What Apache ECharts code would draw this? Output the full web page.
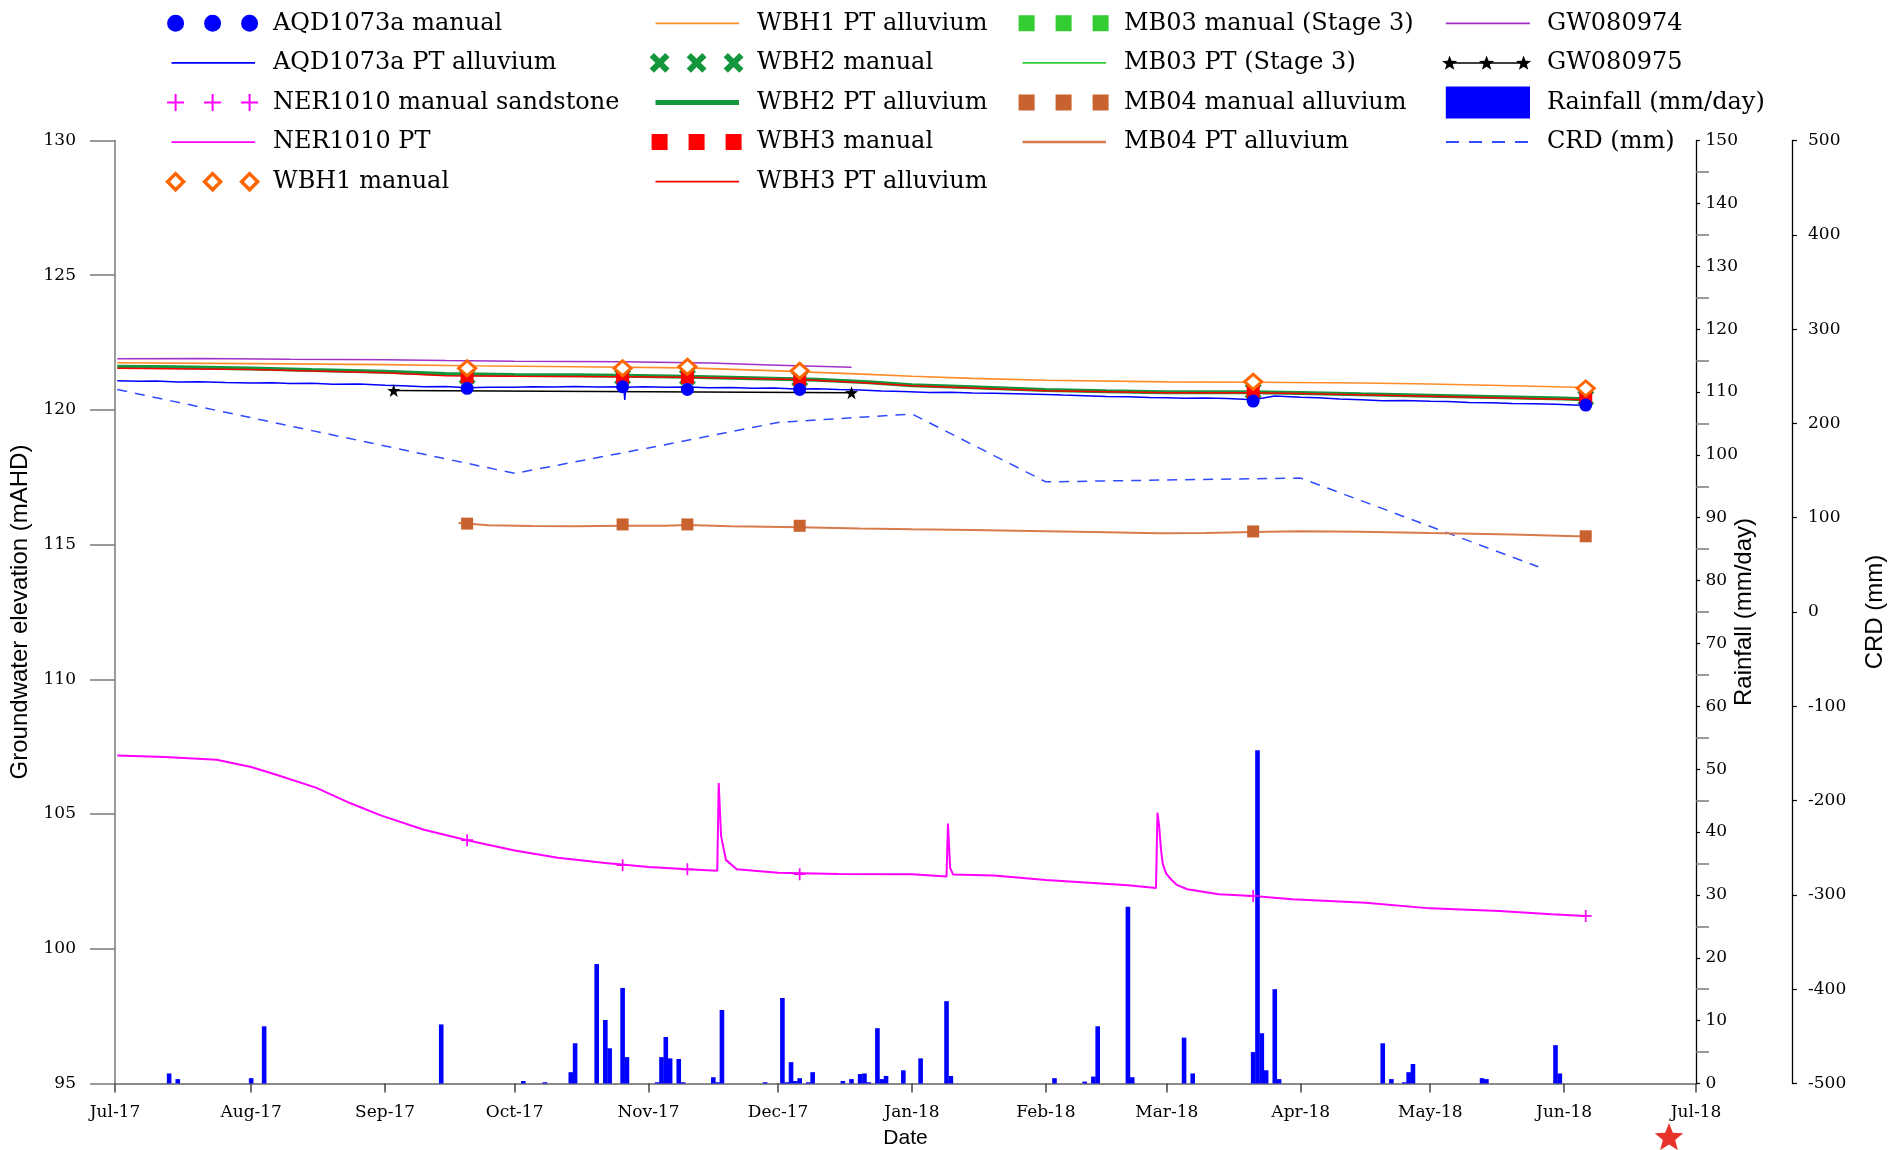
<!DOCTYPE html>
<html>
<head>
<meta charset="utf-8">
<script src="https://cdn.jsdelivr.net/npm/echarts@6/dist/echarts.min.js"></script>
<style>html,body{margin:0;padding:0;background:#fff;}#chart{width:1899px;height:1150px;}</style>
</head>
<body>
<div id="chart"></div>
<script>
// ---------------- DATA ----------------
const monthNames = ['Jan','Feb','Mar','Apr','May','Jun','Jul','Aug','Sep','Oct','Nov','Dec'];
const axisStart = [2017, 6, 1];
const axisEnd = [2018, 6, 1];

const manualDates = ['2017-09-20','2017-10-26','2017-11-10','2017-12-06','2018-03-21','2018-06-06'];
const aqdManual   = [120.80, 120.86, 120.76, 120.76, 120.33, 120.18];
const nerManual   = [104.03, 103.10, 102.95, 102.77, 101.96, 101.22];
const wbh1Manual  = [121.55, 121.55, 121.60, 121.45, 121.05, 120.80];
const wbh2Manual  = [121.25, 121.23, 121.22, 121.16, 120.70, 120.45];
const wbh3Manual  = [121.23, 121.21, 121.21, 121.14, 120.68, 120.43];
const mb03ManualDates = ['2018-03-21','2018-06-06'];
const mb03Manual  = [120.66, 120.42];
const mb04Manual  = [115.78, 115.75, 115.75, 115.70, 115.49, 115.31];

const aqdPtDates = ['2017-07-01','2017-07-06','2017-07-10','2017-07-15','2017-07-20','2017-07-26','2017-08-01','2017-08-06','2017-08-10','2017-08-15','2017-08-20','2017-08-26','2017-09-01','2017-09-05','2017-09-10','2017-09-15','2017-09-20','2017-09-25','2017-10-01','2017-10-05','2017-10-10','2017-10-15','2017-10-20','2017-10-26 06:00','2017-10-26 12:00','2017-10-26 18:00','2017-10-31','2017-11-05','2017-11-10','2017-11-15','2017-11-20','2017-11-25','2017-11-30','2017-12-05','2017-12-10','2017-12-15','2017-12-20','2017-12-25','2017-12-30','2018-01-05','2018-01-10','2018-01-15','2018-01-20','2018-01-25','2018-01-30','2018-02-05','2018-02-10','2018-02-15','2018-02-20','2018-02-25','2018-03-01','2018-03-05','2018-03-10','2018-03-15','2018-03-21','2018-03-26','2018-04-01','2018-04-05','2018-04-10','2018-04-15','2018-04-20','2018-04-25','2018-05-01','2018-05-05','2018-05-10','2018-05-15','2018-05-20','2018-05-25','2018-05-30','2018-06-06'];
const aqdPt = [121.08,121.06,121.07,121.04,121.05,121.02,121.00,121.01,120.98,120.99,120.95,120.96,120.92,120.90,120.86,120.87,120.82,120.84,120.84,120.86,120.85,120.87,120.85,120.86,120.37,120.84,120.86,120.84,120.85,120.82,120.83,120.80,120.81,120.78,120.79,120.76,120.74,120.70,120.68,120.65,120.66,120.63,120.62,120.60,120.58,120.55,120.53,120.50,120.49,120.46,120.45,120.43,120.44,120.42,120.38,120.52,120.47,120.45,120.41,120.38,120.34,120.35,120.32,120.31,120.28,120.27,120.24,120.23,120.21,120.16];

const nerPtDates = ['2017-07-01','2017-07-12','2017-07-24','2017-08-01','2017-08-07','2017-08-16','2017-08-24','2017-08-31','2017-09-10','2017-09-20','2017-10-01','2017-10-11','2017-10-22','2017-11-01','2017-11-09','2017-11-16 22:00','2017-11-17 06:00','2017-11-17 19:00','2017-11-18 22:00','2017-11-21 10:00','2017-12-01','2017-12-15','2018-01-01','2018-01-09 00:00','2018-01-09 08:00','2018-01-09 20:00','2018-01-10 12:00','2018-01-20','2018-02-01','2018-02-11','2018-02-20','2018-02-26 12:00','2018-02-26 20:00','2018-02-27 06:00','2018-02-27 16:00','2018-02-28 01:00','2018-02-28 20:00','2018-03-02 03:00','2018-03-03 08:00','2018-03-05 18:00','2018-03-13','2018-03-21','2018-03-30','2018-04-16','2018-05-01','2018-05-17','2018-05-29','2018-06-06'];
const nerPt = [107.17,107.12,107.02,106.75,106.45,105.98,105.40,104.95,104.42,104.03,103.65,103.38,103.18,103.04,102.96,102.90,106.15,104.20,103.30,102.95,102.82,102.78,102.77,102.68,104.65,103.00,102.76,102.72,102.55,102.45,102.36,102.26,105.05,104.53,103.67,103.17,102.80,102.55,102.37,102.21,102.02,101.96,101.84,101.71,101.50,101.40,101.28,101.22];

const wbh1PtDates = ['2017-07-01','2017-08-01','2017-09-01','2017-09-20','2017-10-15','2017-11-10','2017-12-01','2017-12-22','2018-01-01','2018-01-15','2018-02-01','2018-03-01','2018-03-21','2018-04-15','2018-05-01','2018-05-20','2018-06-06'];
const wbh1Pt = [121.75,121.72,121.68,121.64,121.60,121.56,121.45,121.32,121.25,121.17,121.10,121.04,121.03,121.00,120.96,120.90,120.83];

const wbh2PtDates = ['2017-07-01','2017-07-15','2017-08-01','2017-08-15','2017-09-01','2017-09-15','2017-10-01','2017-10-15','2017-10-26','2017-11-10','2017-11-25','2017-12-10','2017-12-22','2018-01-01','2018-01-15','2018-02-01','2018-02-15','2018-03-01','2018-03-21','2018-04-01','2018-04-15','2018-05-01','2018-05-15','2018-06-01','2018-06-06'];
const wbh2Pt = [121.60,121.58,121.54,121.48,121.42,121.33,121.30,121.29,121.27,121.23,121.18,121.12,121.03,120.92,120.84,120.74,120.69,120.66,120.66,120.63,120.58,120.53,120.48,120.42,120.40];
const mb03Pt = [121.58,121.56,121.52,121.46,121.40,121.31,121.28,121.27,121.25,121.21,121.16,121.10,121.01,120.90,120.82,120.72,120.67,120.64,120.64,120.61,120.56,120.51,120.46,120.40,120.38];

const wbh3PtDates = ['2017-07-01','2017-08-01','2017-09-01','2017-09-15','2017-10-01','2017-10-26','2017-11-10','2017-12-06','2017-12-22','2018-01-01','2018-02-01','2018-03-01','2018-03-21','2018-04-01','2018-05-01','2018-06-06'];
const wbh3Pt = [121.55,121.50,121.38,121.27,121.25,121.23,121.21,121.13,121.00,120.90,120.71,120.64,120.64,120.61,120.51,120.38];

const mb04PtDates = ['2017-09-18','2017-09-25','2017-10-05','2017-10-15','2017-10-26','2017-11-05','2017-11-10','2017-11-20','2017-12-06','2017-12-20','2018-01-01','2018-01-15','2018-02-01','2018-02-15','2018-02-27','2018-03-10','2018-03-21','2018-04-01','2018-04-15','2018-05-01','2018-05-20','2018-06-06'];
const mb04Pt = [115.80,115.72,115.69,115.68,115.70,115.70,115.73,115.68,115.65,115.60,115.57,115.54,115.50,115.46,115.42,115.43,115.47,115.50,115.48,115.43,115.38,115.30];

const gw974Dates = ['2017-07-01','2017-07-20','2017-08-10','2017-09-01','2017-09-15','2017-10-01','2017-10-26','2017-11-15','2017-12-01','2017-12-18'];
const gw974 = [121.90,121.91,121.88,121.86,121.83,121.81,121.79,121.74,121.66,121.58];

const gw975Dates = ['2017-09-03','2017-12-18'];
const gw975 = [120.72, 120.64];

const rainDates = ['2017-07-13','2017-07-15','2017-08-01','2017-08-04','2017-09-14','2017-10-03','2017-10-08','2017-10-14','2017-10-15','2017-10-20','2017-10-22','2017-10-23','2017-10-26','2017-10-27','2017-11-03','2017-11-04','2017-11-05','2017-11-06','2017-11-08','2017-11-09','2017-11-16','2017-11-17','2017-11-18','2017-11-28','2017-12-02','2017-12-03','2017-12-04','2017-12-05','2017-12-06','2017-12-08','2017-12-09','2017-12-16','2017-12-18','2017-12-20','2017-12-21','2017-12-22','2017-12-24','2017-12-25','2017-12-26','2017-12-30','2018-01-03','2018-01-09','2018-01-10','2018-02-03','2018-02-10','2018-02-12','2018-02-13','2018-02-20','2018-02-21','2018-03-05','2018-03-07','2018-03-21','2018-03-22','2018-03-23','2018-03-24','2018-03-26','2018-03-27','2018-04-20','2018-04-22','2018-04-25','2018-04-26','2018-04-27','2018-05-13','2018-05-14','2018-05-30','2018-05-31'];
const rain = [1.6,0.7,0.85,9.1,9.4,0.4,0.2,1.8,6.4,19.0,10.1,5.6,15.2,4.2,0.2,4.2,7.4,4.0,3.9,0.2,1.0,0.2,11.7,0.2,13.6,0.2,3.4,0.4,0.85,0.2,1.8,0.4,0.7,1.5,1.6,0.2,8.8,0.7,1.2,2.1,4.0,13.1,1.2,0.85,0.3,1.1,9.1,28.1,1.0,7.3,1.6,5.0,53.0,8.0,2.1,15.0,0.7,6.4,0.7,0.2,1.8,3.1,0.85,0.7,6.1,1.6];

const crdDates = ['2017-07-01','2017-10-01','2017-11-01','2017-12-01','2018-01-01','2018-02-01','2018-03-01','2018-04-01','2018-05-26'];
const crd = [236,147,174,201,210,138,140,142,48];

// ---------------- HELPERS ----------------
const zip = (d, v) => d.map((x, i) => [x, v[i]]);
const f = n => (+n).toFixed(2);
function corners(W, H) { return 'M0,0h0.01v0.01h-0.01Z M' + f(W - 0.01) + ',' + f(H - 0.01) + 'h0.01v0.01h-0.01Z '; }
function rect(x, y, w, h) { return 'M' + f(x) + ',' + f(y) + 'h' + f(w) + 'v' + f(h) + 'h' + f(-w) + 'Z '; }
function circle(cx, cy, r) { return 'M' + f(cx - r) + ',' + f(cy) + 'A' + r + ',' + r + ',0,1,0,' + f(cx + r) + ',' + f(cy) + 'A' + r + ',' + r + ',0,1,0,' + f(cx - r) + ',' + f(cy) + 'Z '; }
function plus(cx, cy, s, t) { return rect(cx - t / 2, cy - s, t, 2 * s) + rect(cx - s, cy - t / 2, 2 * s, t); }
function hollowDiamond(cx, cy, r, ri) {
  return 'M' + f(cx) + ',' + f(cy - r) + 'L' + f(cx + r) + ',' + f(cy) + 'L' + f(cx) + ',' + f(cy + r) + 'L' + f(cx - r) + ',' + f(cy) + 'Z ' +
         'M' + f(cx) + ',' + f(cy - ri) + 'L' + f(cx - ri) + ',' + f(cy) + 'L' + f(cx) + ',' + f(cy + ri) + 'L' + f(cx + ri) + ',' + f(cy) + 'Z ';
}
function poly(pts) { return 'M' + pts.map(p => f(p[0]) + ',' + f(p[1])).join('L') + 'Z '; }
function xmark(cx, cy, s, t) {
  const d = t / (2 * Math.SQRT2);
  const b1 = [[cx - s + d, cy - s - d], [cx + s + d, cy + s - d], [cx + s - d, cy + s + d], [cx - s - d, cy - s + d]];
  const b2 = [[cx - s - d, cy + s - d], [cx + s - d, cy - s - d], [cx + s + d, cy - s + d], [cx - s + d, cy + s + d]];
  return poly(b1) + poly(b2);
}
function starPts(cx, cy, R, r) {
  const pts = [];
  for (let k = 0; k < 10; k++) {
    const a = -Math.PI / 2 + k * Math.PI / 5;
    const rr = k % 2 === 0 ? R : r;
    pts.push([cx + rr * Math.cos(a), cy + rr * Math.sin(a)]);
  }
  return pts;
}
const cxs = [11.6, 48.6, 85.6];
const W = 104, H1 = 22, H4 = 34;
const ic1 = body => 'path://' + corners(W, H1) + body;
const ic4 = body => 'path://' + corners(W, H4) + body;

const icons = {
  aqdManual: ic1(cxs.map(c => circle(c, 11, 8.5)).join('')),
  line: ic1(rect(7.5, 10.1, 83.5, 1.8)),
  lineMid: ic1(rect(7.5, 9.75, 83.5, 2.5)),
  nerManual: ic1(cxs.map(c => plus(c, 11, 8.5, 2)).join('')),
  wbh1Manual: ic1(cxs.map(c => hollowDiamond(c, 11, 10.5, 5.6)).join('')),
  wbh2Manual: ic1(cxs.map(c => xmark(c, 11, 7.8, 6)).join('')),
  thick: ic1(rect(7.5, 8.5, 83.5, 5)),
  squares: ic1(cxs.map(c => rect(c - 8, 3, 16, 16)).join('')),
  gw974: ic4(rect(7.8, 16.1, 84.2, 1.8)),
  gw975: ic4(rect(8, 16.25, 80, 1.5) + cxs.map(c => poly(starPts(c, 17.5, 8, 3.3))).join('')),
  rain: ic4(rect(7.8, 1, 84.2, 32)),
  crd: ic4([0, 1, 2, 3].map(k => rect(8 + k * 23, 16, 13, 2)).join(''))
};

const starSym = 'path://' + poly(starPts(10, 10, 10, 4));
const plusSym = 'path://' + plus(6, 6, 6, 1.7);
const xSym = 'path://' + xmark(8, 8, 6, 3.8);

const C = {
  blue: '#0000FF', magenta: '#FF00FF', wbh1m: '#FF6600', wbh1: '#FF8C28', wbh2: '#14963C',
  red: '#FF0000', mb03: '#33CC33', mb04m: '#C9622F', mb04: '#D77A4C', gw974: '#A030C8', black: '#000000', crd: '#2F4BFF'
};

const xMin = new Date(axisStart[0], axisStart[1], axisStart[2]).getTime();
const xMax = new Date(axisEnd[0], axisEnd[1], axisEnd[2]).getTime();

const legendText = { fontFamily: 'DejaVu Serif', fontSize: 24, color: '#000', lineHeight: 28 };
function legendItem(name, icon, color) { return { name: name, icon: icon, itemStyle: { color: color, borderWidth: 0, opacity: 1 } }; }
function legendCol(left, top, h, gap, data) {
  return { left: left, top: top, orient: 'vertical', padding: 0, itemWidth: W, itemHeight: h, itemGap: gap,
           selectedMode: false, textStyle: legendText, itemStyle: { borderWidth: 0, opacity: 1 }, data: data };
}

function lineS(name, dates, vals, color, width, z, yIdx, extra) {
  return Object.assign({ type: 'line', name: name, data: zip(dates, vals), yAxisIndex: yIdx || 0, showSymbol: false, symbol: 'none',
    lineStyle: { color: color, width: width }, itemStyle: { color: color }, z: z, silent: true }, extra || {});
}
function scatterS(name, dates, vals, symbol, size, itemStyle, z) {
  return { type: 'scatter', name: name, data: zip(dates, vals), symbol: symbol, symbolSize: size,
           itemStyle: Object.assign({ opacity: 1 }, itemStyle), z: z, silent: true };
}

const axisFont = { fontFamily: 'DejaVu Serif', fontSize: 17, color: '#000' };
const nameFont = { fontFamily: "'Liberation Sans', Arial, sans-serif", fontSize: 24, color: '#000' };
const monthLabel = v => {
  const t = typeof v === 'number' ? v : (v && v.value != null ? v.value : +v);
  const d = new Date(Math.min(Math.max(t, xMin), xMax) + 12 * 3600 * 1000);
  return monthNames[d.getMonth()] + '-' + String(d.getFullYear()).slice(2);
};

const option = {
  animation: false,
  backgroundColor: '#ffffff',
  grid: { left: 115, right: 203, top: 140.5, bottom: 66.5, containLabel: false, outerBoundsMode: 'none' },
  legend: [
    legendCol(164, 9.3, H1, 11.6, [
      legendItem('AQD1073a manual', icons.aqdManual, C.blue),
      legendItem('AQD1073a PT alluvium', icons.line, C.blue),
      legendItem('NER1010 manual sandstone', icons.nerManual, C.magenta),
      legendItem('NER1010 PT', icons.line, C.magenta),
      legendItem('WBH1 manual', icons.wbh1Manual, C.wbh1m)
    ]),
    legendCol(648, 9.3, H1, 11.6, [
      legendItem('WBH1 PT alluvium', icons.line, C.wbh1),
      legendItem('WBH2 manual', icons.wbh2Manual, C.wbh2),
      legendItem('WBH2 PT alluvium', icons.thick, C.wbh2),
      legendItem('WBH3 manual', icons.squares, C.red),
      legendItem('WBH3 PT alluvium', icons.line, C.red)
    ]),
    legendCol(1015, 9.3, H1, 11.6, [
      legendItem('MB03 manual (Stage 3)', icons.squares, C.mb03),
      legendItem('MB03 PT (Stage 3)', icons.line, C.mb03),
      legendItem('MB04 manual alluvium', icons.squares, C.mb04m),
      legendItem('MB04 PT alluvium', icons.lineMid, C.mb04)
    ]),
    legendCol(1438, 6.3, H4, 5.6, [
      legendItem('GW080974', icons.gw974, C.gw974),
      legendItem('GW080975', icons.gw975, C.black),
      legendItem('Rainfall (mm/day)', icons.rain, C.blue),
      legendItem('CRD (mm)', icons.crd, C.crd)
    ])
  ],
  xAxis: {
    type: 'time',
    min: xMin,
    max: xMax,
    splitNumber: 12,
    minInterval: 28 * 86400000,
    maxInterval: 31 * 86400000,
    axisLine: { show: true, lineStyle: { color: '#8a8a8a', width: 2 } },
    axisTick: { show: true, inside: false, length: 9, lineStyle: { color: '#444', width: 1.5 } },
    axisLabel: Object.assign({ margin: 21, hideOverlap: false, showMinLabel: true, showMaxLabel: true,
      formatter: monthLabel }, axisFont),
    splitLine: { show: false },
    name: 'Date', nameLocation: 'middle', nameGap: 44,
    nameTextStyle: { fontFamily: "'Liberation Sans', Arial, sans-serif", fontSize: 21, color: '#000' }
  },
  yAxis: [
    {
      type: 'value', min: 95, max: 130, interval: 5, position: 'left',
      axisLine: { show: true, lineStyle: { color: '#7a7a7a', width: 1.5 } },
      axisTick: { show: true, inside: false, length: 25, lineStyle: { color: '#7a7a7a', width: 1.5 } },
      axisLabel: Object.assign({ margin: 39 }, axisFont),
      splitLine: { show: false },
      name: 'Groundwater elevation (mAHD)', nameLocation: 'middle', nameGap: 78, nameTextStyle: nameFont
    },
    {
      type: 'value', min: 0, max: 150, interval: 10, position: 'right', offset: 0,
      axisLine: { show: true, lineStyle: { color: '#000', width: 1.3 } },
      axisTick: { show: true, inside: false, length: 4, lineStyle: { color: '#000', width: 1.2 } },
      minorTick: { show: true, splitNumber: 2, length: 13, lineStyle: { color: '#7a7a7a', width: 1.5 } },
      axisLabel: Object.assign({ margin: 9.5 }, axisFont),
      splitLine: { show: false },
      name: 'Rainfall (mm/day)', nameLocation: 'middle', nameGap: 36, nameMoveOverlap: false, nameTextStyle: nameFont
    },
    {
      type: 'value', min: -500, max: 500, interval: 100, position: 'right', offset: 96,
      axisLine: { show: true, lineStyle: { color: '#000', width: 1.3 } },
      axisTick: { show: true, inside: false, length: 5, lineStyle: { color: '#000', width: 1.2 } },
      axisLabel: Object.assign({ margin: 16 }, axisFont),
      splitLine: { show: false },
      name: 'CRD (mm)', nameLocation: 'middle', nameGap: 71, nameTextStyle: nameFont
    }
  ],
  series: [
    lineS('CRD (mm)', crdDates, crd, C.crd, 1.5, 1, 2, { lineStyle: { color: C.crd, width: 1.5, type: [10, 8] } }),
    lineS('GW080974', gw974Dates, gw974, C.gw974, 1.5, 2),
    lineS('MB04 PT alluvium', mb04PtDates, mb04Pt, C.mb04, 2, 2),
    lineS('MB03 PT (Stage 3)', wbh2PtDates, mb03Pt, C.mb03, 1.5, 2),
    lineS('WBH1 PT alluvium', wbh1PtDates, wbh1Pt, C.wbh1, 1.6, 2),
    lineS('WBH2 PT alluvium', wbh2PtDates, wbh2Pt, C.wbh2, 4, 2),
    lineS('WBH3 PT alluvium', wbh3PtDates, wbh3Pt, C.red, 1.5, 2),
    lineS('AQD1073a PT alluvium', aqdPtDates, aqdPt, C.blue, 1.5, 2),
    lineS('NER1010 PT', nerPtDates, nerPt, C.magenta, 2, 2),
    lineS('GW080975', gw975Dates, gw975, C.black, 1.5, 3, 0, { showSymbol: true, symbol: starSym, symbolSize: 13, itemStyle: { color: C.black, opacity: 1 } }),
    { type: 'bar', name: 'Rainfall (mm/day)', yAxisIndex: 1, data: zip(rainDates, rain), barWidth: 4.6,
      itemStyle: { color: C.blue }, z: 3, silent: true },
    scatterS('MB04 manual alluvium', manualDates, mb04Manual, 'rect', 12, { color: C.mb04m }, 4),
    scatterS('MB03 manual (Stage 3)', mb03ManualDates, mb03Manual, 'rect', 11, { color: C.mb03 }, 4),
    scatterS('WBH2 manual', manualDates, wbh2Manual, xSym, 17, { color: C.wbh2 }, 4),
    scatterS('WBH3 manual', manualDates, wbh3Manual, 'rect', 13, { color: C.red }, 5),
    scatterS('WBH1 manual', manualDates, wbh1Manual, 'diamond', [17, 15], { color: '#ffffff', borderColor: C.wbh1m, borderWidth: 3 }, 6),
    scatterS('AQD1073a manual', manualDates, aqdManual, 'circle', 13, { color: C.blue }, 6),
    scatterS('NER1010 manual sandstone', manualDates, nerManual, plusSym, 12, { color: C.magenta }, 6)
  ],
  graphic: [
    { type: 'polygon', shape: { points: starPts(1669, 1138, 15, 6.5) }, style: { fill: '#E8332B' }, z: 100 }
  ]
};

const chart = echarts.init(document.getElementById('chart'), null, { renderer: 'canvas' });
chart.setOption(option);
</script>
</body>
</html>
